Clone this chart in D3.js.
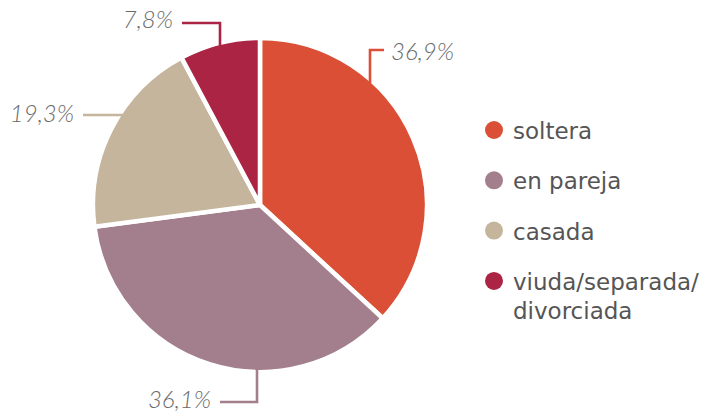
<!DOCTYPE html>
<html>
<head>
<meta charset="utf-8">
<script src="https://cdn.jsdelivr.net/npm/d3@7"></script>
<style>
  body { margin: 0; background: #fff; }
  svg { display: block; }
  .pct { font-family: Lato, "DejaVu Sans", sans-serif; font-style: italic; font-weight: 300; font-size: 24px; fill: #6a6a6a; }
  .legend text { font-family: "DejaVu Sans", sans-serif; font-size: 23px; fill: #555; }
</style>
</head>
<body>
<svg width="715" height="417"></svg>
<script>
const categories = ['soltera', 'en pareja', 'casada', 'viuda/separada/divorciada'];
const legendLines = [['soltera'], ['en pareja'], ['casada'], ['viuda/separada/', 'divorciada']];
const values = [36.9, 36.1, 19.3, 7.8];
const valueLabels = ['36,9%', '36,1%', '19,3%', '7,8%'];
const colors = ['#da4f35', '#a37e8c', '#c4b59c', '#ac2444'];

const svg = d3.select('svg');
const cx = 260;
const cy = 205;
const radius = 167;

const color = d3.scaleOrdinal().domain(categories).range(colors);

const pie = d3.pie().sort(null).value((d) => d.value);
const arc = d3.arc().innerRadius(0).outerRadius(radius);

const data = categories.map((c, i) => ({name: c, value: values[i], label: valueLabels[i]}));

const g = svg.append('g').attr('transform', `translate(${cx},${cy})`);

g.selectAll('path')
  .data(pie(data))
  .enter()
  .append('path')
  .attr('d', arc)
  .attr('fill', (d) => color(d.data.name))
  .attr('stroke', '#fff')
  .attr('stroke-width', 4.5)
  .attr('stroke-linejoin', 'round');

// leader layout: where the line leaves the pie and where the label sits
// 'v' = leaves vertically at offset x, 'h' = leaves horizontally at offset y
const leaders = [
  {dir: 'v', at: 110, elbow: -155, end: 124, side: 'right', dy: 10},
  {dir: 'v', at: -3, elbow: 197, end: -40, side: 'left', dy: 6},
  {dir: 'h', at: -90, elbow: 0, end: -177, side: 'left', dy: 7},
  {dir: 'v', at: -40, elbow: -182, end: -78, side: 'left', dy: 5}
];

const edge = (v) => Math.sqrt(radius * radius - v * v);

leaders.forEach((l, i) => {
  let pts;
  if (l.dir === 'v') {
    const y0 = (l.elbow < 0 ? -1 : 1) * (edge(l.at) - 4);
    pts = [[l.at, y0], [l.at, l.elbow], [l.end, l.elbow]];
  } else {
    const x0 = -(edge(l.at) - 8);
    pts = [[x0, l.at], [l.end, l.at]];
  }
  g.append('path')
    .attr('d', d3.line()(pts))
    .attr('fill', 'none')
    .attr('stroke', colors[i])
    .attr('stroke-width', 2.6);
  const last = pts[pts.length - 1];
  g.append('text')
    .attr('class', 'pct')
    .attr('x', last[0] + (l.side === 'right' ? 7 : -9))
    .attr('y', last[1] + l.dy)
    .attr('text-anchor', l.side === 'right' ? 'start' : 'end')
    .text(valueLabels[i]);
});

const legend = svg.append('g')
  .attr('class', 'legend')
  .attr('transform', 'translate(494,130)');

const item = legend.selectAll('g')
  .data(categories)
  .enter()
  .append('g')
  .attr('transform', (d, i) => `translate(0,${i * 50.3})`);

item.append('circle')
  .attr('r', 9)
  .attr('fill', (d) => color(d));

item.append('text')
  .attr('x', 19)
  .attr('y', 9)
  .selectAll('tspan')
  .data((d, i) => legendLines[i])
  .enter()
  .append('tspan')
  .attr('x', 19)
  .attr('dy', (d, i) => (i ? 29 : 0))
  .text((d) => d);
</script>
</body>
</html>
